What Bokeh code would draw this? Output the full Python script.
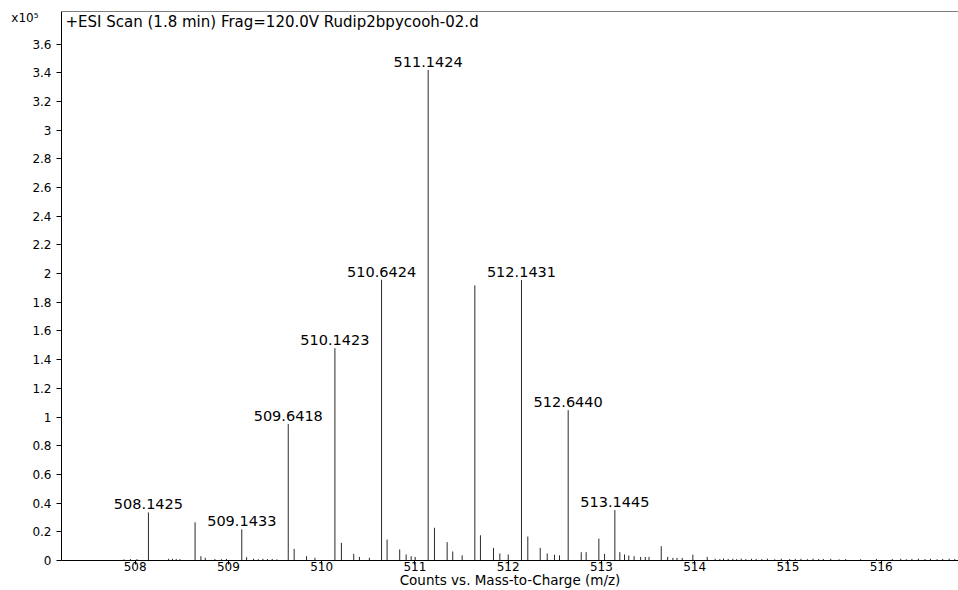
from bokeh.plotting import figure
from bokeh.models import (Range1d, FixedTicker, CustomJSTickFormatter, Span,
                          Label, ColumnDataSource, LinearAxis)
from bokeh.core.properties import value
from bokeh.embed import file_html
from bokeh.resources import INLINE

# Centroid peaks: m/z and abundance (x10^5 counts)
mz = [
    507.88, 507.95, 508.02,
    508.1425,
    508.36, 508.40, 508.44, 508.48,
    508.6425, 508.705, 508.752, 508.855, 508.925, 508.98,
    509.1433, 509.195, 509.27, 509.32, 509.37, 509.42, 509.47, 509.52,
    509.6418, 509.705, 509.838, 509.928,
    510.1423, 510.212, 510.344, 510.405, 510.512,
    510.6424, 510.702, 510.837, 510.906, 510.960, 511.003,
    511.1424, 511.210, 511.346, 511.406, 511.507,
    511.6428, 511.703, 511.843, 511.911, 512.001,
    512.1431, 512.211, 512.344, 512.419, 512.497, 512.551,
    512.6440, 512.784, 512.837, 512.973, 513.034,
    513.1445, 513.198, 513.248, 513.294, 513.351, 513.421, 513.471, 513.511,
    513.642, 513.711, 513.767, 513.811, 513.867, 513.981, 514.135,
    514.22, 514.27, 514.31, 514.36, 514.41, 514.45, 514.50, 514.55,
    514.61, 514.66, 514.72, 514.78, 514.86, 514.93, 515.02, 515.08,
    515.14, 515.21, 515.27, 515.33, 515.38, 515.46, 515.55, 515.62,
    515.78, 515.95, 516.12, 516.21, 516.27, 516.33, 516.40, 516.47,
    516.53, 516.60, 516.66, 516.73, 516.79,
]
abundance = [
    0.008, 0.010, 0.010,
    0.335,
    0.012, 0.012, 0.011, 0.010,
    0.266, 0.030, 0.019, 0.010, 0.009, 0.011,
    0.217, 0.023, 0.012, 0.009, 0.012, 0.010, 0.011, 0.008,
    0.951, 0.081, 0.030, 0.019,
    1.480, 0.123, 0.046, 0.025, 0.019,
    1.957, 0.146, 0.077, 0.042, 0.030, 0.025,
    3.420, 0.228, 0.128, 0.063, 0.036,
    1.918, 0.176, 0.088, 0.049, 0.042,
    1.955, 0.167, 0.088, 0.049, 0.040, 0.036,
    1.048, 0.058, 0.058, 0.153, 0.046,
    0.352, 0.058, 0.042, 0.035, 0.030, 0.025, 0.025, 0.025,
    0.100, 0.025, 0.018, 0.018, 0.018, 0.040, 0.025,
    0.012, 0.010, 0.014, 0.011, 0.012, 0.009, 0.013, 0.010,
    0.012, 0.011, 0.010, 0.013, 0.009, 0.012, 0.010, 0.011,
    0.012, 0.009, 0.013, 0.010, 0.011, 0.012, 0.008, 0.010,
    0.009, 0.011, 0.010, 0.012, 0.009, 0.011, 0.013, 0.010,
    0.012, 0.009, 0.011, 0.012, 0.010,
]

# Annotated peaks
labeled_mz = [508.1425, 509.1433, 509.6418, 510.1423, 510.6424,
              511.1424, 512.1431, 512.6440, 513.1445]

x_ticks = [508, 509, 510, 511, 512, 513, 514, 515, 516]
y_ticks = [0, 0.2, 0.4, 0.6, 0.8, 1, 1.2, 1.4, 1.6, 1.8, 2, 2.2, 2.4,
           2.6, 2.8, 3, 3.2, 3.4, 3.6]

title_text = "+ESI Scan (1.8 min) Frag=120.0V Rudip2bpycooh-02.d"
x_title = "Counts vs. Mass-to-Charge (m/z)"
scale_text = "x10\u2075"

FONT = "DejaVu Sans"
X_MIN, X_MAX = 507.21, 516.83
Y_MAX = 3.827
SCALE_Y = 3.785   # height at which the y-scale factor is written

p = figure(width=958, height=590, output_backend="svg", toolbar_location=None,
           x_range=Range1d(X_MIN, X_MAX), y_range=Range1d(0, Y_MAX),
           min_border_left=61, min_border_top=11, min_border_right=0,
           min_border_bottom=29)
p.background_fill_color = "white"
p.border_fill_color = "white"
p.outline_line_color = None
p.grid.visible = False

# Stick spectrum
src = ColumnDataSource(dict(x=mz, y0=[0] * len(mz), y1=abundance))
p.segment(x0="x", y0="y0", x1="x", y1="y1", source=src,
          line_color="#2a2a2a", line_width=1)

# Peak annotations
lab_y = [abundance[mz.index(m)] for m in labeled_mz]
lab_src = ColumnDataSource(dict(x=labeled_mz, y=lab_y,
                                t=["%.4f" % m for m in labeled_mz]))
p.text(x="x", y="y", text="t", source=lab_src, text_align="center",
       text_baseline="middle", y_offset=-8,
       text_font=value(FONT), text_font_size="14.5px", text_color="black")

# Axes
for ax in (p.xaxis[0], p.yaxis[0]):
    ax.axis_line_color = "black"
    ax.axis_line_width = 1
    ax.major_tick_line_color = "black"
    ax.major_tick_in = 0
    ax.minor_tick_line_color = None
    ax.major_label_text_font = FONT
    ax.major_label_text_color = "black"

p.xaxis.ticker = FixedTicker(ticks=x_ticks)
p.xaxis.major_tick_out = 4
p.xaxis.major_label_text_font_size = "12px"
p.xaxis.major_label_standoff = -3
p.xaxis.axis_label = x_title
p.xaxis.axis_label_text_font = FONT
p.xaxis.axis_label_text_font_style = "normal"
p.xaxis.axis_label_text_font_size = "13.5px"
p.xaxis.axis_label_text_color = "black"
p.xaxis.axis_label_standoff = -2

p.yaxis.ticker = FixedTicker(ticks=y_ticks)
p.yaxis.major_tick_out = 5
p.yaxis.major_label_text_font_size = "12px"
p.yaxis.major_label_standoff = 5
p.yaxis.formatter = CustomJSTickFormatter(
    code="return tick.toFixed(1).replace(/\\.0$/, '');")

# Scale factor of the intensity axis, written at the top-left corner
scale_axis = LinearAxis(ticker=FixedTicker(ticks=[SCALE_Y]),
                        formatter=CustomJSTickFormatter(code="return '%s';" % scale_text),
                        axis_line_color=None, major_tick_line_color=None,
                        minor_tick_line_color=None, major_tick_out=0,
                        major_tick_in=0, major_label_standoff=-9,
                        major_label_text_font=FONT,
                        major_label_text_font_size="12px",
                        major_label_text_color="black")
p.add_layout(scale_axis, "left")

# Top border of the frame
p.add_layout(Span(location=Y_MAX, dimension="width",
                  line_color="black", line_width=1))

# Scan description
p.add_layout(Label(x=X_MIN, y=Y_MAX, x_offset=4, y_offset=-10,
                   text=title_text, text_font=FONT, text_font_size="15px",
                   text_baseline="middle", text_color="black"))

open("out.html", "w").write(file_html(p, INLINE))
